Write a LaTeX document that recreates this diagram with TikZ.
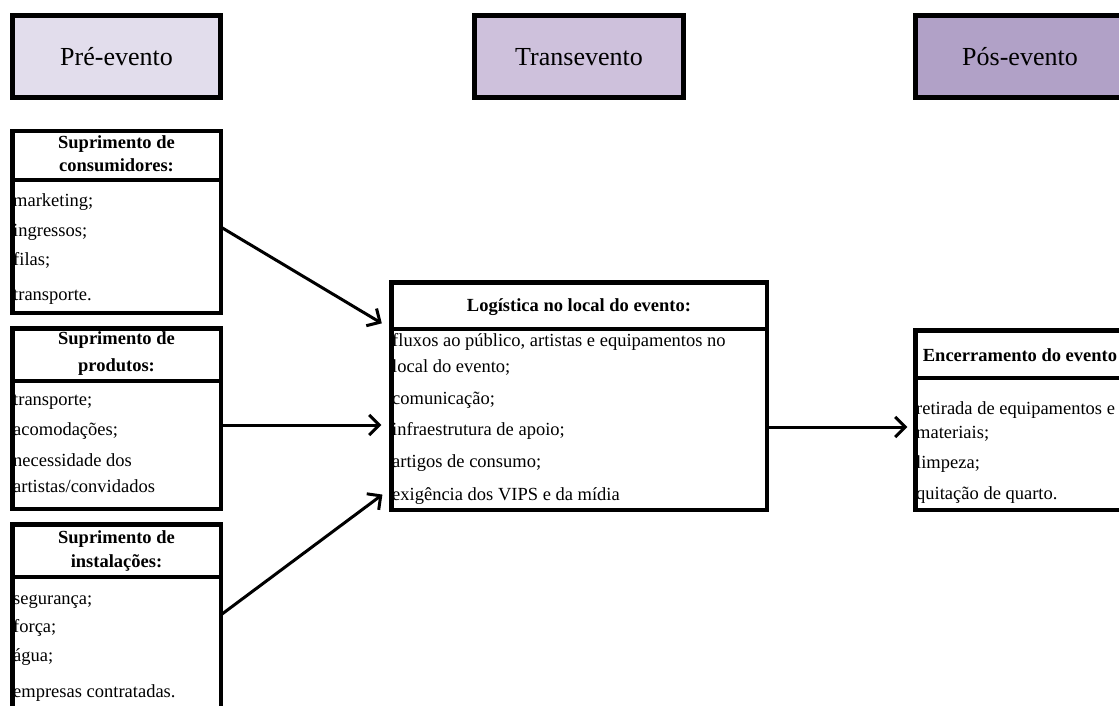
\documentclass[tikz,border=0pt]{standalone}
\usepackage{fontspec}
\setmainfont{Liberation Serif}
\usetikzlibrary{arrows.meta}
\definecolor{preFill}{HTML}{E2DDEC}
\definecolor{transFill}{HTML}{CEC1DC}
\definecolor{posFill}{HTML}{B1A1C7}
\begin{document}
\begin{tikzpicture}[x=1pt,y=-1pt,
  phase/.style={draw=black, line width=5pt, inner sep=0pt, outer sep=0pt,
    font=\fontsize{26}{30}\selectfont},
  title/.style={inner sep=0pt, yshift=-7pt, font=\fontsize{26}{30}\selectfont,
    text height=0.7em, text depth=0.2em},
  panel/.style={draw=black, line width=4.5pt, inner sep=0pt, outer sep=0pt, fill=white},
  rule/.style={line width=4.5pt},
  head/.style={inner sep=0pt, yshift=-4pt, font=\fontsize{18.5}{22}\selectfont\bfseries,
    text height=0.7em, text depth=0.2em},
  item/.style={anchor=west, inner sep=0pt, yshift=-4pt, font=\fontsize{18.5}{22}\selectfont,
    text height=0.7em, text depth=0.2em},
  arr/.style={line width=3pt, -{Straight Barb[length=10pt,width=20pt]}}
]
\useasboundingbox (0,0) rectangle (1119,706);
\clip (0,0) rectangle (1119,706);

% phase headers
\node[phase, fill=preFill, minimum width=208pt, minimum height=82pt] (pre) at (116.5,56.5) {};
\node[title] (preT) at (pre.center) {Pré-evento};
\node[phase, fill=transFill, minimum width=209pt, minimum height=82pt] (trans) at (579,56.5) {};
\node[title] (transT) at (trans.center) {Transevento};
\node[phase, fill=posFill, minimum width=209pt, minimum height=82pt] (pos) at (1020,56.5) {};
\node[title] (posT) at (pos.center) {Pós-evento};

% pre-event panels
\node[panel, minimum width=208.5pt, minimum height=181.5pt] (b1) at (116.5,222) {};
\draw[rule] (b1.west |- 0,180) -- (b1.east |- 0,180);
\node[head] (b1h1) at (116.5,142) {Suprimento de};
\node[head] (b1h2) at (116.5,165) {consumidores:};
\node[item] (b1i1) at (13,200) {marketing;};
\node[item] (b1i2) at (13,230) {ingressos;};
\node[item] (b1i3) at (13,259) {filas;};
\node[item] (b1i4) at (13,294) {transporte.};

\node[panel, minimum width=208.5pt, minimum height=180.5pt] (b2) at (116.5,418.5) {};
\draw[rule] (b2.west |- 0,381) -- (b2.east |- 0,381);
\node[head] (b2h1) at (116.5,338) {Suprimento de};
\node[head] (b2h2) at (116.5,365) {produtos:};
\node[item] (b2i1) at (13,399) {transporte;};
\node[item] (b2i2) at (13,429) {acomodações;};
\node[item] (b2i3) at (13,460) {necessidade dos};
\node[item] (b2i4) at (13,486) {artistas/convidados};

\node[panel, minimum width=208.5pt, minimum height=195.5pt] (b3) at (116.5,622) {};
\draw[rule] (b3.west |- 0,577) -- (b3.east |- 0,577);
\node[head] (b3h1) at (116.5,537) {Suprimento de};
\node[head] (b3h2) at (116.5,561) {instalações:};
\node[item] (b3i1) at (13,598) {segurança;};
\node[item] (b3i2) at (13,626) {força;};
\node[item] (b3i3) at (13,655) {água;};
\node[item] (b3i4) at (13,691) {empresas contratadas.};

% on-site panel
\node[panel, minimum width=375.5pt, minimum height=227.5pt] (cen) at (579,396) {};
\draw[rule] (cen.west |- 0,329) -- (cen.east |- 0,329);
\node[head] (cenh) at (579,305) {Logística no local do evento:};
\node[item] (ceni1) at (392,340) {fluxos ao público, artistas e equipamentos no};
\node[item] (ceni2) at (392,366) {local do evento;};
\node[item] (ceni3) at (392,398) {comunicação;};
\node[item] (ceni4) at (392,429) {infraestrutura de apoio;};
\node[item] (ceni5) at (392,461) {artigos de consumo;};
\node[item] (ceni6) at (392,494) {exigência dos VIPS e da mídia};

% closing panel
\node[panel, minimum width=209.5pt, minimum height=179.5pt] (fin) at (1020,420) {};
\draw[rule] (fin.west |- 0,378) -- (fin.east |- 0,378);
\node[head] (finh) at (1020,355) {Encerramento do evento};
\node[item] (fini1) at (916,408) {retirada de equipamentos e};
\node[item] (fini2) at (916,432) {materiais;};
\node[item] (fini3) at (916,462) {limpeza;};
\node[item] (fini4) at (916,493) {quitação de quarto.};

% flow arrows
\draw[arr, shorten >=11pt] (b1.east |- 0,227) -- (cen.west |- 0,329);
\draw[arr, shorten >=10pt] (b2.east |- 0,425) -- (cen.west |- 0,425);
\draw[arr, shorten >=11pt] (b3.east |- 0,615) -- (cen.west |- 0,488);
\draw[arr, shorten >=8pt] (cen.east |- 0,427) -- (fin.west |- 0,427);
\end{tikzpicture}
\end{document}
